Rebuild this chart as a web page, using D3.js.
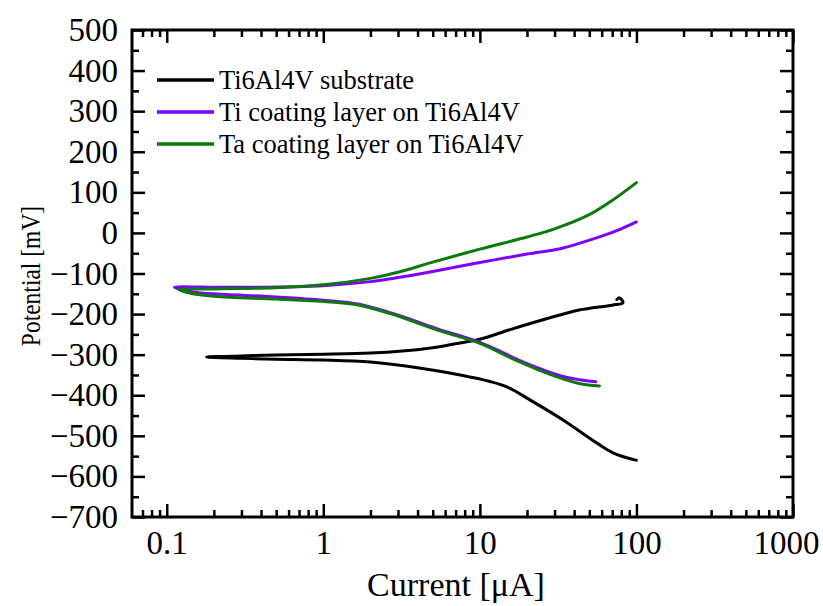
<!DOCTYPE html>
<html>
<head>
<meta charset="utf-8">
<script src="https://cdn.jsdelivr.net/npm/d3@7"></script>
<style>
  body { margin: 0; background: #fff; }
  text { font-family: "Liberation Serif", "DejaVu Serif", serif; fill: #000; }
</style>
</head>
<body>
<svg id="chart" width="823" height="606"></svg>
<script>
// polarization curves: [current uA, potential mV], cathodic end -> Ecorr -> anodic end
var substrate = [
  [100, -560], [95, -558], [72, -543], [56, -518], [34, -461], [21, -412], [15, -380],
  [11.6, -366], [7.5, -350], [4, -332], [2, -318], [1, -313], [0.5, -311], [0.3, -309],
  [0.18, -306], [0.3, -303], [0.5, -301], [1, -299], [2, -296], [3.2, -291], [5, -283],
  [7, -273], [10, -262], [16, -237], [27, -211], [43, -190], [70, -178], [82, -172], [78, -160], [75, -164]
];
var tiCoating = [
  [55, -367], [35, -355], [20, -322], [10, -270], [5.3, -236], [3, -203], [1.7, -176],
  [1, -166], [0.5, -158], [0.2, -150], [0.15, -146], [0.112, -134], [0.2, -134],
  [0.3, -134], [1, -130], [2, -120], [3, -110], [5, -95], [10, -73], [20, -52],
  [34, -37], [60, -8], [80, 10], [100, 27]
];
var taCoating = [
  [58, -377], [43, -371], [27, -346], [16, -309], [10, -272], [5.3, -239], [3, -205],
  [1.7, -178], [1, -169], [0.5, -163], [0.2, -156], [0.14, -148], [0.12, -140],
  [0.2, -138], [0.5, -135], [1, -128], [2, -112], [3, -97], [5, -72], [10, -40],
  [20, -10], [30, 10], [50, 45], [70, 80], [100, 124]
];
var seriesNames = ["Ti6Al4V substrate", "Ti coating layer on Ti6Al4V", "Ta coating layer on Ti6Al4V"];
var seriesColors = ["#000000", "#8000ff", "#0b7a0b"];

var xMajor = [0.1, 1, 10, 100, 1000];
var xTickLabels = ["0.1", "1", "10", "100", "1000"];
var yMajor = [-700, -600, -500, -400, -300, -200, -100, 0, 100, 200, 300, 400, 500];
var yMinor = [-650, -550, -450, -350, -250, -150, -50, 50, 150, 250, 350, 450];

var svg = d3.select("#chart");
var pLeft = 132, pRight = 793, pTop = 30, pBottom = 517;

var x = d3.scaleLog().domain([0.06, 1000]).range([pLeft, pRight]);
var y = d3.scaleLinear().domain([-700, 500]).range([pBottom, pTop]);

// minor log ticks 2..9 in each decade inside domain
var xMinor = [];
[0.01, 0.1, 1, 10, 100].forEach(function(d) {
  for (var k = 2; k <= 9; k++) {
    var v = d * k;
    if (v >= 0.065 && v < 999) xMinor.push(v);
  }
});

var major = 13, minor = 7;

// curves
var line = d3.line()
  .x(function(d) { return x(d[0]); })
  .y(function(d) { return y(d[1]); })
  .curve(d3.curveCatmullRom.alpha(0.5));

[substrate, tiCoating, taCoating].forEach(function(s, i) {
  svg.append("path")
    .datum(s)
    .attr("d", line)
    .attr("fill", "none")
    .attr("stroke", seriesColors[i])
    .attr("stroke-width", 3)
    .attr("stroke-linejoin", "round")
    .attr("stroke-linecap", "round");
});

// axes
function styleAxis(g) {
  g.select(".domain").remove();
  g.selectAll(".tick line").attr("stroke", "#000").attr("stroke-width", 2.5);
  g.selectAll("text").style("font-size", "33px").style("font-family", "Liberation Serif, serif");
}

svg.append("g").attr("transform", "translate(0," + pBottom + ")")
  .call(d3.axisBottom(x).tickValues(xMajor).tickSize(-major).tickPadding(14)
    .tickFormat(function(d, i) { return xTickLabels[i]; }))
  .call(styleAxis)
  .selectAll(".tick text").attr("dx", function(d) { return d === 1000 ? -7 : 0; });
svg.append("g").attr("transform", "translate(0," + pBottom + ")")
  .call(d3.axisBottom(x).tickValues(xMinor).tickSize(-minor).tickFormat(""))
  .call(styleAxis);
svg.append("g").attr("transform", "translate(0," + pTop + ")")
  .call(d3.axisTop(x).tickValues(xMajor).tickSize(-major).tickFormat(""))
  .call(styleAxis);
svg.append("g").attr("transform", "translate(0," + pTop + ")")
  .call(d3.axisTop(x).tickValues(xMinor).tickSize(-minor).tickFormat(""))
  .call(styleAxis);

svg.append("g").attr("transform", "translate(" + pLeft + ",0)")
  .call(d3.axisLeft(y).tickValues(yMajor).tickSize(-major).tickPadding(14))
  .call(styleAxis);
svg.append("g").attr("transform", "translate(" + pLeft + ",0)")
  .call(d3.axisLeft(y).tickValues(yMinor).tickSize(-minor).tickFormat(""))
  .call(styleAxis);
svg.append("g").attr("transform", "translate(" + pRight + ",0)")
  .call(d3.axisRight(y).tickValues(yMajor).tickSize(-major).tickFormat(""))
  .call(styleAxis);
svg.append("g").attr("transform", "translate(" + pRight + ",0)")
  .call(d3.axisRight(y).tickValues(yMinor).tickSize(-minor).tickFormat(""))
  .call(styleAxis);

svg.append("rect")
  .attr("x", pLeft).attr("y", pTop)
  .attr("width", pRight - pLeft).attr("height", pBottom - pTop)
  .attr("fill", "none").attr("stroke", "#000").attr("stroke-width", 3);

// axis titles
svg.append("text")
  .attr("x", 456).attr("y", 596)
  .attr("text-anchor", "middle")
  .style("font-size", "34px")
  .text("Current [\u03bcA]");
svg.append("text")
  .attr("transform", "translate(40,276) rotate(-90) scale(0.84,1)")
  .attr("text-anchor", "middle")
  .style("font-size", "28px")
  .text("Potential [mV]");

// legend
var legend = svg.append("g");
seriesNames.forEach(function(name, i) {
  var ly = 80 + i * 32;
  legend.append("line")
    .attr("x1", 157).attr("x2", 214).attr("y1", ly).attr("y2", ly)
    .attr("stroke", seriesColors[i]).attr("stroke-width", 3.5);
  legend.append("text")
    .attr("x", 219).attr("y", ly)
    .attr("dy", "0.33em")
    .style("font-size", "26.5px")
    .text(name);
});
</script>
</body>
</html>
